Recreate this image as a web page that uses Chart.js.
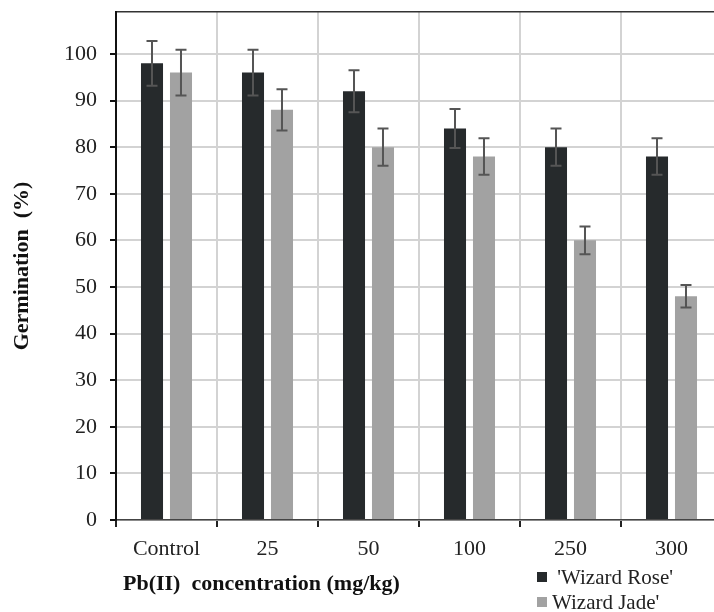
<!DOCTYPE html>
<html>
<head>
<meta charset="utf-8">
<script src="https://cdn.jsdelivr.net/npm/chart.js@4.4.1/dist/chart.umd.min.js"></script>
<style>
  html, body { margin: 0; padding: 0; background: #ffffff; overflow: hidden; }
  #wrap { width: 714px; height: 612px; overflow: hidden; position: relative; }
  canvas { display: block; }
</style>
</head>
<body>
<div id="wrap"><canvas id="chart" width="730" height="612"></canvas></div>
<script>
// Germination (%) of two cultivars under increasing Pb(II) concentration
const categories = ['Control', '25', '50', '100', '250', '300'];
const seriesNames = [" 'Wizard Rose'", "Wizard Jade'"];
const roseValues = [98, 96, 92, 84, 80, 78];
const jadeValues = [96, 88, 80, 78, 60, 48];
const roseErrors = [4.8, 4.9, 4.5, 4.2, 4.0, 3.9];
const jadeErrors = [4.9, 4.4, 4.0, 3.9, 3.0, 2.4];
const yTickValues = [0, 10, 20, 30, 40, 50, 60, 70, 80, 90, 100];
const xTitle = 'Pb(II)  concentration (mg/kg)';
const yTitle = 'Germination  (%)';

const SERIF = '"Liberation Serif", "Times New Roman", serif';
const Y_MAX = 109;

// standard-deviation whiskers on top of each bar
const errorBars = {
  id: 'errorBars',
  afterDatasetsDraw(chart) {
    const ctx = chart.ctx;
    const y = chart.scales.y;
    ctx.save();
    ctx.strokeStyle = '#555555';
    ctx.lineWidth = 2;
    chart.data.datasets.forEach((ds, i) => {
      const meta = chart.getDatasetMeta(i);
      meta.data.forEach((bar, j) => {
        const v = ds.data[j], e = ds.errors[j];
        const yt = y.getPixelForValue(v + e);
        const yb = y.getPixelForValue(v - e);
        const x = bar.x, cap = 5.5;
        ctx.beginPath();
        ctx.moveTo(x, yt); ctx.lineTo(x, yb);
        ctx.moveTo(x - cap, yt); ctx.lineTo(x + cap, yt);
        ctx.moveTo(x - cap, yb); ctx.lineTo(x + cap, yb);
        ctx.stroke();
      });
    });
    ctx.restore();
  }
};

// x-axis caption (left aligned) and the stacked legend under the plot
const bottomText = {
  id: 'bottomText',
  afterDraw(chart) {
    const ctx = chart.ctx;
    ctx.save();
    ctx.fillStyle = '#111111';
    ctx.textBaseline = 'middle';
    ctx.textAlign = 'left';
    ctx.font = 'bold 22px ' + SERIF;
    ctx.fillText(xTitle, 123, 584);

    ctx.font = '21px ' + SERIF;
    chart.data.datasets.forEach((ds, i) => {
      const top = 572 + i * 25;
      ctx.fillStyle = ds.backgroundColor;
      ctx.fillRect(537, top, 10, 10);
      ctx.fillStyle = '#222222';
      ctx.fillText(ds.label, 552, top + 6);
    });
    ctx.restore();
  }
};

new Chart(document.getElementById('chart'), {
  type: 'bar',
  data: {
    labels: categories,
    datasets: [
      { label: seriesNames[0], data: roseValues, errors: roseErrors, backgroundColor: '#262a2c' },
      { label: seriesNames[1], data: jadeValues, errors: jadeErrors, backgroundColor: '#a2a2a2' }
    ]
  },
  options: {
    responsive: false,
    animation: false,
    devicePixelRatio: 1,
    categoryPercentage: 0.574,
    barPercentage: 0.76,
    layout: { padding: { left: 0, right: 8, top: 12, bottom: 0 } },
    plugins: {
      legend: { display: false },
      tooltip: { enabled: false }
    },
    scales: {
      x: {
        grid: {
          offset: true,
          color: '#d3d3d3',
          lineWidth: 2,
          tickColor: '#222222',
          tickLength: 7
        },
        border: { color: '#444444', width: 1.5 },
        ticks: {
          color: '#222222',
          font: { family: SERIF, size: 22 },
          padding: 9,
          maxRotation: 0
        },
        afterFit(scale) {
          scale.height = 92;
          scale.paddingLeft = 0;
          scale.paddingRight = 0;
        }
      },
      y: {
        min: 0,
        max: Y_MAX,
        afterBuildTicks(scale) {
          scale.ticks = yTickValues.map(v => ({ value: v })).concat([{ value: Y_MAX }]);
        },
        grid: {
          color: c => (c.tick && c.tick.value === Y_MAX ? '#333333' : '#d3d3d3'),
          lineWidth: c => (c.tick && c.tick.value === Y_MAX ? 1.5 : 2),
          tickColor: c => (c.tick && c.tick.value === Y_MAX ? 'rgba(0,0,0,0)' : '#111111'),
          tickLength: 6
        },
        border: { color: '#111111', width: 2 },
        ticks: {
          color: '#222222',
          font: { family: SERIF, size: 22 },
          padding: 13,
          callback: v => (yTickValues.includes(v) ? String(v) : '')
        },
        title: {
          display: true,
          text: yTitle,
          color: '#111111',
          font: { family: SERIF, size: 22, weight: 'bold' },
          padding: { top: 9, bottom: 0 }
        },
        afterFit(scale) {
          scale.width = 116;
          scale.paddingTop = 0;
          scale.paddingBottom = 0;
        }
      }
    }
  },
  plugins: [errorBars, bottomText]
});
</script>
</body>
</html>
